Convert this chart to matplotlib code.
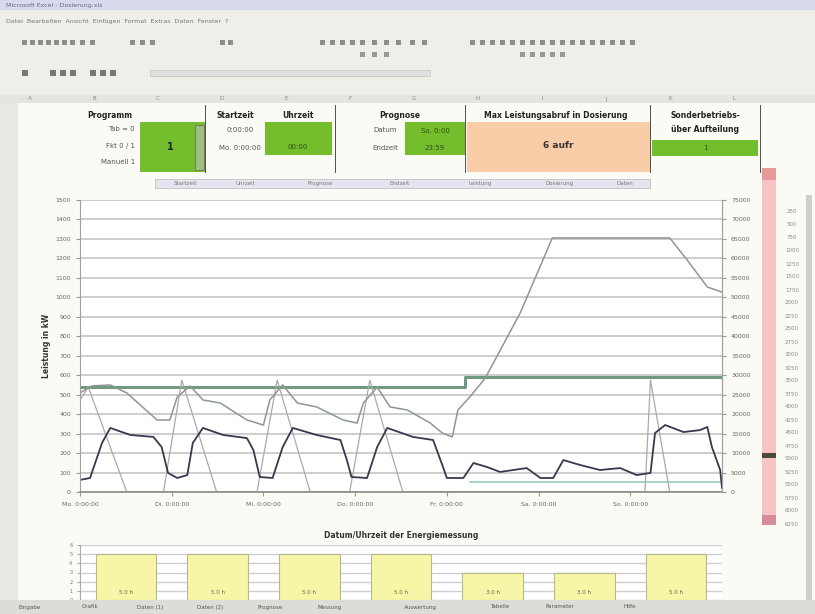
import matplotlib
matplotlib.use("Agg")
import matplotlib.pyplot as plt
from matplotlib.patches import Rectangle
import numpy as np

# ---------------- data ----------------
# time axis in days since Monday 0:00
day_labels = ["Mo. 0:00:00", "Di. 0:00:00", "Mi. 0:00:00", "Do. 0:00:00",
              "Fr. 0:00:00", "Sa. 0:00:00", "So. 0:00:00"]
left_ticks = list(range(0, 1501, 100))
right_ticks = list(range(0, 75001, 5000))

# measured load (dark line)
last_t = [0.00, 0.11, 0.24, 0.33, 0.55, 0.80, 0.89, 0.96, 1.06, 1.17, 1.23, 1.34,
          1.56, 1.82, 1.89, 1.96, 2.10, 2.21, 2.32, 2.58, 2.84, 2.91, 2.96, 3.13,
          3.24, 3.35, 3.63, 3.85, 3.95, 4.00, 4.18, 4.29, 4.44, 4.58, 4.87, 5.02,
          5.16, 5.27, 5.45, 5.67, 5.89, 6.07, 6.22, 6.27, 6.38, 6.58, 6.76, 6.84,
          6.89, 6.98, 7.00]
last_kw = [62, 72, 252, 329, 293, 283, 231, 98, 72, 87, 252, 329,
           293, 277, 216, 77, 72, 231, 329, 293, 267, 164, 77, 72,
           231, 329, 283, 267, 139, 72, 72, 149, 128, 103, 123, 72,
           72, 164, 139, 113, 123, 87, 98, 303, 344, 308, 318, 334,
           231, 113, 21]

# forecast (grey line)
prog_t = [0.00, 0.13, 0.33, 0.51, 0.84, 0.98, 1.06, 1.20, 1.34, 1.53, 1.82, 2.00,
          2.07, 2.21, 2.37, 2.58, 2.87, 3.02, 3.09, 3.24, 3.38, 3.57, 3.82, 3.95,
          4.06, 4.12, 4.25, 4.42, 4.80, 5.15, 6.43, 6.62, 6.84, 7.00]
prog_kw = [509, 545, 550, 509, 370, 370, 488, 545, 473, 457, 370, 344,
           473, 550, 457, 437, 370, 354, 457, 539, 437, 421, 354, 303,
           283, 421, 488, 586, 920, 1305, 1305, 1192, 1053, 1027]

# dosing pulses (light grey line)
puls_t = [0.00, 0.09, 0.51, 0.91, 1.11, 1.49, 1.93, 2.15, 2.51, 2.94, 3.16, 3.52,
          3.93, 6.16, 6.22, 6.43, 7.00]
puls_kw = [473, 539, 0, 0, 575, 0, 0, 575, 0, 0, 575, 0,
           0, 0, 575, 0, 0]

# limit (green step line)
grenz_t = [0.00, 4.20, 4.20, 7.00]
grenz_kw = [540, 540, 590, 590]

# base load (teal line)
basis_t = [4.25, 7.00]
basis_kw = [51, 51]

# daily dosing duration (lower chart)
dauer_h = [5.0, 5.0, 5.0, 5.0, 3.0, 3.0, 5.0]

# ---------------- figure ----------------
W, H = 815, 614
fig = plt.figure(figsize=(W / 100, H / 100), dpi=100)
fig.patch.set_facecolor("#fbfbf6")


def fx(x):
    return x / W


def fy(y):
    return 1 - y / H


def rect(x0, y0, x1, y1, **kw):
    fig.patches.append(Rectangle((fx(x0), fy(y1)), (x1 - x0) / W, (y1 - y0) / H,
                                 transform=fig.transFigure, **kw))


def txt(x, y, s, **kw):
    kw.setdefault("fontsize", 5)
    kw.setdefault("va", "center")
    kw.setdefault("color", "#555555")
    fig.text(fx(x), fy(y), s, **kw)


# window chrome: title bar, toolbars, column headers
rect(0, 0, W, 10, color="#d9d9ee", lw=0)
rect(0, 10, W, 95, color="#efeee8", lw=0)
txt(6, 5, "Microsoft Excel - Dosierung.xls", color="#666688", fontsize=4.5)
txt(6, 22, "Datei  Bearbeiten  Ansicht  Einfügen  Format  Extras  Daten  Fenster  ?",
    fontsize=4.5, color="#777777")
for x0 in [22, 30, 38, 46, 54, 62, 70, 80, 90, 130, 140, 150, 220, 228, 320, 330,
           340, 350, 360, 372, 384, 396, 410, 422, 470, 480, 490, 500, 510, 520,
           530, 540, 550, 560, 570, 580, 590, 600, 610, 620, 630]:
    rect(x0, 40, x0 + 5, 45, color="#8c8c8c", lw=0)
for x0 in [360, 372, 384, 520, 530, 540, 550, 560]:
    rect(x0, 52, x0 + 5, 57, color="#999999", lw=0)
for x0 in [22, 50, 60, 70, 90, 100, 110]:
    rect(x0, 70, x0 + 6, 76, color="#777777", lw=0)
rect(150, 70, 430, 76, color="#e0e0e0", lw=0.4, ec="#bbbbbb")
rect(0, 95, W, 103, color="#e4e4e0", lw=0)
for i, c in enumerate("ABCDEFGHIJKL"):
    txt(30 + i * 64, 99, c, fontsize=4, color="#888888", ha="center")
rect(0, 103, 18, 600, color="#e8e8e4", lw=0)

# header cells
hdr = dict(fontsize=5.5, fontweight="bold", color="#222222", ha="center")
txt(110, 115, "Programm", **hdr)
txt(235, 115, "Startzeit", **hdr)
txt(298, 115, "Uhrzeit", **hdr)
txt(400, 115, "Prognose", **hdr)
txt(556, 115, "Max Leistungsabruf in Dosierung", **hdr)
txt(705, 115, "Sonderbetriebs-", **hdr)
txt(705, 130, "über Aufteilung", **hdr)
for xl in [205, 335, 465, 650, 760]:
    fig.add_artist(plt.Line2D([fx(xl), fx(xl)], [fy(105), fy(172)],
                              transform=fig.transFigure, color="#333333", lw=0.6))
txt(135, 129, "Tab = 0", ha="right")
txt(135, 146, "Fkt 0 / 1", ha="right")
txt(135, 162, "Manuell 1", ha="right")
rect(140, 122, 205, 172, color="#74bd2c", lw=0)
rect(195, 125, 204, 170, color="#9fbf80", lw=0.4, ec="#555555")
txt(170, 147, "1", fontsize=7, fontweight="bold", color="#222222", ha="center")
txt(240, 130, "0:00:00", ha="center")
txt(240, 148, "Mo. 0:00:00", ha="center")
rect(265, 122, 332, 155, color="#74bd2c", lw=0)
txt(298, 147, "00:00", ha="center", color="#2f5010")
txt(385, 130, "Datum", ha="center")
txt(385, 148, "Endzeit", ha="center")
rect(405, 122, 465, 155, color="#74bd2c", lw=0)
txt(435, 131, "So. 0:00", ha="center", color="#2f5010")
txt(435, 148, "23:59", ha="center", color="#2f5010")
rect(467, 122, 650, 172, color="#f9cda8", lw=0)
txt(558, 145, "6 aufr", fontsize=6.5, fontweight="bold", color="#333333", ha="center")
rect(652, 140, 758, 156, color="#74bd2c", lw=0)
txt(705, 148, "1", ha="center", color="#2f5010")
rect(155, 179, 650, 188, color="#e6e4ee", lw=0.4, ec="#aaaaaa")
for xs, s in [(185, "Startzeit"), (245, "Uhrzeit"), (320, "Prognose"),
              (400, "Endzeit"), (480, "Leistung"), (560, "Dosierung"), (625, "Daten")]:
    txt(xs, 183.5, s, fontsize=4, color="#777777", ha="center")

# status column on the right
rect(762, 168, 776, 525, color="#f6c4c4", lw=0)
rect(762, 168, 776, 180, color="#e89a9a", lw=0)
rect(762, 453, 776, 458, color="#4a4a3a", lw=0)
rect(762, 515, 776, 525, color="#d68a9a", lw=0)
rect(806, 195, 812, 600, color="#cfcfcf", lw=0)
for k, yy in enumerate(range(212, 525, 13)):
    txt(792, yy, f"{(k + 1) * 250}", fontsize=4, color="#888888", ha="center")

# sheet tabs
rect(0, 600, W, 614, color="#dcdcd8", lw=0)
for xs, s in [(30, "Eingabe"), (90, "Grafik"), (150, "Daten (1)"), (210, "Daten (2)"),
              (270, "Prognose"), (330, "Messung"), (420, "Auswertung"), (500, "Tabelle"),
              (560, "Parameter"), (630, "Hilfe")]:
    txt(xs, 607, s, fontsize=4, color="#555555", ha="center")

# ---------------- main chart ----------------
ax = fig.add_axes([fx(80), fy(492), (722 - 80) / W, (492 - 200) / H])
ax.set_facecolor("white")
ax.set_xlim(0, 7)
ax.set_ylim(0, 1500)
ax.set_yticks(left_ticks)
ax.set_yticklabels([str(v) for v in left_ticks])
ax.set_xticks(range(7))
ax.set_xticklabels(day_labels)
ax.grid(axis="y", color="#cdcdcd", lw=1.4)
ax.set_axisbelow(True)
ax.spines["top"].set_visible(False)
for s in ["left", "right"]:
    ax.spines[s].set_color("#a0a0a0")
ax.spines["bottom"].set_color("#8a8a8a")
ax.spines["bottom"].set_linewidth(1.2)
ax.tick_params(axis="both", labelsize=4.5, labelcolor="#666666", color="#999999", length=3)
ax.tick_params(axis="x", pad=4.5)

ax.plot(basis_t, basis_kw, color="#9fd0c4", lw=1.3)
ax.plot(grenz_t, grenz_kw, color="#6f9a80", lw=2.2)
ax.plot(puls_t, puls_kw, color="#aaaaaa", lw=0.9)
ax.plot(prog_t, prog_kw, color="#8e9892", lw=1.1)
ax.plot(last_t, last_kw, color="#3d3650", lw=1.3)

ax.set_xlabel("Datum/Uhrzeit der Energiemessung", fontsize=5.5, fontweight="bold",
              color="#333333", labelpad=17)
ax.set_ylabel("Leistung in kW", fontsize=5.5, fontweight="bold", color="#333333",
              labelpad=3)

ax2 = ax.twinx()
ax2.set_ylim(0, 75000)
ax2.set_yticks(right_ticks)
ax2.set_yticklabels([str(v) for v in right_ticks])
ax2.tick_params(axis="y", labelsize=4.5, labelcolor="#666666", color="#999999", length=3)
for s in ["top", "left", "bottom"]:
    ax2.spines[s].set_visible(False)
ax2.spines["right"].set_color("#a0a0a0")

# ---------------- lower chart: dosing duration per day ----------------
bx = fig.add_axes([fx(80), fy(600), (722 - 80) / W, (600 - 545) / H])
bx.set_facecolor("white")
bx.set_xlim(0, 7)
bx.set_ylim(0, 6)
bx.set_yticks(range(0, 7))
bx.set_xticks([])
bx.grid(axis="y", color="#cfcfcf", lw=1.0)
bx.set_axisbelow(True)
for s in ["top", "right", "bottom"]:
    bx.spines[s].set_visible(False)
bx.spines["left"].set_color("#aaaaaa")
bx.tick_params(axis="y", labelsize=3.5, labelcolor="#777777", length=2, color="#aaaaaa")
pos = np.arange(len(dauer_h)) + 0.5
bx.bar(pos, dauer_h, width=0.66, color="#f6f6a6", edgecolor="#b8b890", lw=0.8)
for p, v in zip(pos, dauer_h):
    bx.text(p, 0.8, f"{v:.1f} h", fontsize=4, ha="center", va="center", color="#666655")

fig.savefig("out.png", dpi=100, facecolor=fig.get_facecolor())
